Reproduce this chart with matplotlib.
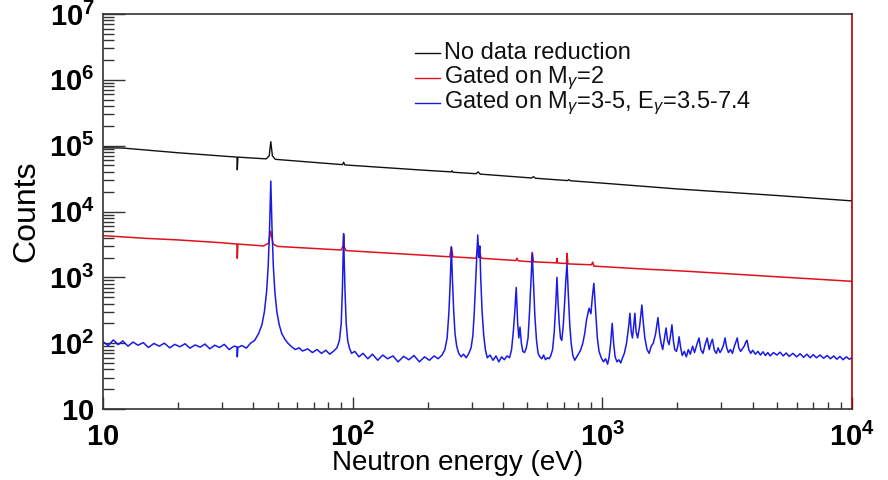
import math
import matplotlib
matplotlib.use("Agg")
from matplotlib import pyplot as plt
from matplotlib.ticker import LogLocator, FixedLocator, FuncFormatter, NullFormatter

plt.rcParams['font.family'] = ['Liberation Sans', 'DejaVu Sans']
plt.rcParams['mathtext.fontset'] = 'custom'
plt.rcParams['mathtext.rm'] = 'Liberation Sans'
plt.rcParams['mathtext.it'] = 'Liberation Sans:italic'
plt.rcParams['mathtext.bf'] = 'Liberation Sans:bold'

# --- data ---
x_ticks = [10, 100, 1000, 10000]
y_ticks = [10, 100, 1000, 1e4, 1e5, 1e6, 1e7]

black_energy = [10, 12, 20, 34.4, 34.5, 34.7, 45, 46.3, 47, 47.7, 49, 91, 92, 93,
                200, 248, 250, 252, 312, 318, 324, 520, 530, 540, 725, 735, 745,
                1000, 2000, 5000, 10000]
black_counts = [93000, 92000, 78000, 67000, 43000, 67000, 63000, 70000, 115000, 70000, 62000,
                51500, 56000, 51000, 42000, 40000, 41500, 39500, 37500, 40000, 37000,
                32300, 33800, 32000, 29500, 30500, 29300, 27000, 22000, 17500, 14500]

red_energy = [10, 15, 20, 30, 34.4, 34.5, 34.7, 44, 46, 47, 48, 50, 90, 91.5, 92, 92.6, 94,
              200, 245, 248.5, 252, 312, 317, 322, 327, 450, 455, 460, 520, 524, 530,
              655, 658, 662, 718, 722, 728, 905, 915, 925, 1500, 2000, 3000, 5000, 10000]
red_counts = [4300, 3900, 3700, 3350, 3200, 1950, 3200, 3000, 3300, 5000, 3200, 2950,
              2600, 3000, 4200, 2900, 2550, 2150, 2050, 2900, 2050, 1950, 2800, 2600, 1950,
              1800, 1950, 1780, 1720, 2400, 1720, 1660, 1950, 1650, 1620, 2300, 1600,
              1550, 1700, 1480, 1330, 1260, 1150, 1020, 870]

blue_energy = [10, 10.5, 11, 11.5, 12, 12.6, 13.2, 13.8, 14.5, 15.2, 16, 16.8, 17.6, 18.5,
               19.4, 20.3, 21.3, 22.3, 23.4, 24.5, 25.6, 26.8, 28, 29.3, 30.6, 32, 33.5,
               34.4, 34.5, 34.7, 36, 37.5, 39, 40.5, 42, 43.3, 44.3, 45.2, 45.9, 46.5, 47,
               47.5, 48.1, 48.8, 49.7, 50.8, 52, 53.5, 55, 57, 59, 61, 63, 66, 69, 72, 75,
               78, 81, 84, 86.5, 88.5, 90, 91, 91.6, 92, 92.5, 93.2, 94.2, 95.5, 97, 99,
               102, 106, 110, 115, 120, 126, 132, 138, 145, 152, 160, 168, 176, 185, 194,
               203, 212, 220, 228, 234, 239, 243, 246, 248.5, 251, 254, 257, 261, 266, 272,
               278, 285, 292, 298, 303, 307, 311, 314, 317, 320, 323, 326, 330, 335, 340,
               346, 355, 365, 375, 385, 395, 405, 415, 425, 433, 440, 446, 452, 458, 463,
               468, 474, 480, 488, 496, 504, 511, 517, 524, 530, 537, 545, 553, 562, 572,
               582, 592, 602, 612, 622, 632, 642, 651, 658, 665, 672, 680, 688, 697, 706,
               714, 722, 730, 740, 750, 762, 775, 790, 805, 820, 835, 850, 865, 885, 900,
               912, 925, 940, 955, 970, 990, 1010, 1030, 1050, 1065, 1080, 1095, 1110, 1125,
               1145, 1165, 1185, 1205, 1225, 1250, 1275, 1290, 1305, 1320, 1335, 1350, 1365,
               1385, 1410, 1440, 1460, 1480, 1510, 1540, 1570, 1600, 1635, 1670, 1695, 1720,
               1745, 1775, 1800, 1825, 1850, 1875, 1900, 1925, 1950, 1980, 2005, 2030, 2060,
               2090, 2130, 2170, 2210, 2250, 2300, 2340, 2390, 2440, 2480, 2530, 2580, 2630,
               2680, 2720, 2760, 2810, 2860, 2910, 2960, 3010, 3060, 3100, 3150, 3200, 3260,
               3320, 3380, 3430, 3470, 3520, 3580, 3640, 3700, 3760, 3800, 3860, 3930, 4000,
               4100, 4200, 4300, 4400, 4500, 4600, 4700, 4850, 5000, 5150, 5300, 5450, 5600,
               5800, 6000, 6200, 6400, 6600, 6800, 7000, 7200, 7450, 7700, 7950, 8200, 8450,
               8700, 8950, 9200, 9500, 9750, 10000]
blue_counts = [105, 92, 112, 95, 108, 90, 104, 93, 102, 86, 99, 90, 100, 85,
               96, 88, 98, 84, 94, 87, 97, 82, 93, 86, 96, 80, 90,
               88, 62, 86, 92, 84, 100, 110, 140, 190, 300, 600, 1500, 6000, 29000,
               6000, 1500, 600, 300, 190, 140, 115, 100, 88, 80, 85, 76, 82, 72, 80, 70,
               78, 68, 76, 85, 110, 200, 700, 2000, 4600, 1800, 600, 200, 110, 85, 70,
               75, 62, 70, 58, 68, 55, 66, 58, 64, 52, 63, 56, 65, 52, 62,
               55, 64, 58, 66, 80, 120, 300, 900, 2900, 900, 300, 140, 90, 70, 62,
               68, 60, 70, 85, 130, 300, 900, 2200, 4400, 2000, 3000, 900, 300, 130, 80,
               60, 66, 55, 64, 52, 62, 56, 64, 60, 80, 150, 300, 700, 200, 120,
               175, 100, 75, 72, 85, 120, 300, 800, 2300, 800, 250, 110, 70, 62, 58,
               66, 56, 60, 58, 65, 80, 150, 400, 1000, 400, 200, 120, 110, 180, 400,
               900, 1600, 600, 200, 100, 65, 55, 62, 70, 80, 100, 140, 230, 340, 280,
               500, 810, 300, 120, 75, 60, 52, 58, 48, 62, 100, 200, 100, 62,
               52, 56, 50, 60, 70, 100, 180, 285, 150, 120, 180, 285, 150,
               120, 180, 380, 200, 120, 80, 70, 90, 100, 140, 245, 140, 100,
               80, 120, 170, 110, 95, 130, 190, 110, 80, 75, 90, 125, 85,
               65, 75, 62, 80, 68, 90, 72, 95, 120, 80, 70, 95, 120,
               80, 100, 115, 78, 70, 85, 72, 80, 95, 120, 85, 72, 80,
               70, 90, 105, 120, 85, 75, 82, 90, 105, 110, 80, 70, 78,
               68, 75, 66, 74, 65, 72, 64, 72, 66, 73, 64, 71, 63,
               70, 62, 69, 61, 68, 60, 67, 60, 66, 59, 65, 58, 64,
               57, 63, 56, 62, 57, 60]

labels = ["No data reduction", r"Gated on M$_{\gamma}$=2",
          r"Gated on M$_{\gamma}$=3-5, E$_{\gamma}$=3.5-7.4"]
colors = ["#111111", "#e0101c", "#1a1ae6"]

fig = plt.figure(figsize=(8.88, 4.8), dpi=100)
ax = fig.add_axes([103 / 888, 1 - 409 / 480, 749 / 888, 395 / 480])

ax.plot(black_energy, black_counts, color=colors[0], lw=1.0)
ax.plot(red_energy, red_counts, color=colors[1], lw=1.1)
ax.plot(blue_energy, blue_counts, color=colors[2], lw=1.1)

ax.set_xscale("log")
ax.set_yscale("log")
ax.set_xlim(x_ticks[0], x_ticks[-1])
ax.set_ylim(y_ticks[0], y_ticks[-1])


def bold_pow(v, pos):
    e = int(round(math.log10(v)))
    if e == 1:
        return r"$\mathbf{10}$"
    return r"$\mathbf{10^{%d}}$" % e


ax.xaxis.set_major_locator(FixedLocator(x_ticks))
ax.yaxis.set_major_locator(FixedLocator(y_ticks))
ax.xaxis.set_minor_locator(LogLocator(base=10, subs=range(2, 10), numticks=20))
ax.yaxis.set_minor_locator(LogLocator(base=10, subs=range(2, 10), numticks=20))
ax.xaxis.set_major_formatter(FuncFormatter(bold_pow))
ax.yaxis.set_major_formatter(FuncFormatter(bold_pow))
ax.xaxis.set_minor_formatter(NullFormatter())
ax.yaxis.set_minor_formatter(NullFormatter())

ax.tick_params(axis="both", which="both", direction="in", top=False, right=False,
               width=1.0, color="#333333")
ax.tick_params(axis="y", which="major", length=16, pad=6, labelsize=21)
ax.tick_params(axis="y", which="minor", length=8)
ax.tick_params(axis="x", which="major", length=9, pad=10, labelsize=21)
ax.tick_params(axis="x", which="minor", length=5)

for s in ["left", "bottom", "top"]:
    ax.spines[s].set_color("#333333")
    ax.spines[s].set_linewidth(1.2)
ax.spines["right"].set_color("#b00000")
ax.spines["right"].set_linewidth(1.2)

ax.set_xlabel("Neutron energy (eV)", fontsize=20, labelpad=0)
ax.xaxis.set_label_coords(0.474, -0.103)
ax.set_ylabel("Counts", fontsize=23)
ax.yaxis.set_label_coords(-0.082, 0.5)

# legend drawn as short line + text rows
leg_rows = [0.901, 0.838, 0.775]
for lab, col, yy in zip(labels, colors, leg_rows):
    ax.plot([0.4166, 0.450], [yy, yy], color=col, lw=1.0, transform=ax.transAxes)
    ax.text(0.455, yy, lab, transform=ax.transAxes, fontsize=17, va="center",
            ha="left", color="#111111")

fig.savefig("out.png", dpi=100)
